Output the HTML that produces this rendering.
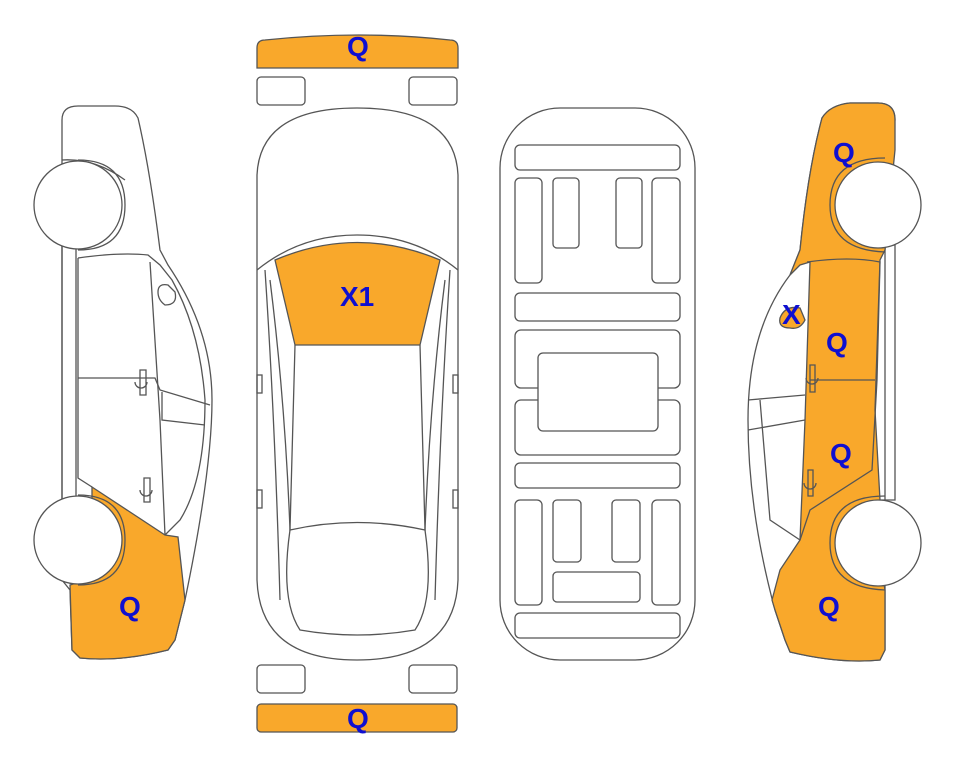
<!DOCTYPE html>
<html><head><meta charset="utf-8"><style>
html,body{margin:0;padding:0;background:#fff;}
svg{display:block}
text{font-family:"Liberation Sans",sans-serif;font-weight:bold;fill:#0f0fd0;font-size:28px;}
</style></head><body>
<svg width="963" height="768" viewBox="0 0 963 768" xmlns="http://www.w3.org/2000/svg">
<g fill="none" stroke="#555" stroke-width="1.3">
<!-- LEFT CAR -->
<path d="M62,120 Q62,106 78,106 L115,106 Q132,106 138,118 Q150,170 160,250 L168,265 Q212,330 212,400 Q212,470 185,600 L175,640 L168,650 Q120,662 80,658 L72,650 L70,590 L62,580 L62,170 Z" fill="#fff"/>
<path d="M92,487 L165,535 L178,537 L185,600 L175,640 L168,650 Q120,662 80,658 L72,650 L70,585 L92,578 Z" fill="#f9a82b" stroke="#555"/>
<path d="M62,160 Q95,158 125,180"/>
<path d="M62,245 L62,500 M76,245 L76,500 M62,245 L76,245 M62,500 L92,500"/>
<path d="M78,258 Q120,252 148,255 L160,265 L172,280 Q200,330 205,400 Q205,480 180,520 L165,535"/>
<path d="M150,262 L160,420 L165,535 M78,258 L78,478 L92,487"/>
<path d="M78,378 L155,378 L160,390 L210,405 M162,392 L162,420 L205,425"/>
<path d="M158,292 Q158,300 165,305 Q178,305 175,292 L168,285 Q158,283 158,292 Z"/>
<path d="M140,370 L140,395 L146,395 L146,370 Z M135,382 A6,6 0 1 0 147,382"/>
<path d="M144,478 L144,502 L150,502 L150,478 Z M140,490 A6,6 0 1 0 152,490"/>
<circle cx="78" cy="205" r="44" fill="#fff"/>
<circle cx="78" cy="540" r="44" fill="#fff"/>
<path d="M78,160 Q125,160 125,205 Q125,250 78,250"/>
<path d="M78,495 Q125,495 125,540 Q125,585 78,585"/>

<!-- RIGHT CAR -->
<path d="M895,120 Q895,103 878,103 L850,103 Q830,105 822,118 Q808,170 800,250 L790,275 Q748,330 748,420 Q748,510 775,610 L785,640 L790,652 Q840,664 880,660 L885,650 L885,180 Z" fill="#fff"/>
<path d="M895,120 Q895,103 878,103 L850,103 Q830,105 822,118 Q808,170 800,250 L790,275 L800,265 L810,262 L805,420 L800,540 L780,570 L772,600 L775,610 L785,640 L790,652 Q840,664 880,660 L885,650 L885,590 L880,560 L880,500 L875,410 L880,260 L885,250 L895,150 Z" fill="#f9a82b"/>
<path d="M780,318 Q785,305 800,308 L805,320 Q800,330 790,328 Q778,328 780,318 Z" fill="#f9a82b"/>
<path d="M807,262 Q850,256 880,262 L877,380 L872,470 L810,510 L800,540"/>
<path d="M810,380 L875,380 M748,430 L805,420 M748,400 L805,395 M760,400 L770,520 L800,540"/>
<path d="M880,245 L895,245 L895,500 L880,500"/>
<path d="M810,365 L810,392 L815,392 L815,365 Z M806,378 A6,6 0 0 0 818,378"/>
<path d="M808,470 L808,496 L813,496 L813,470 Z M804,483 A6,6 0 0 0 816,483"/>
<circle cx="878" cy="205" r="43" fill="#fff"/>
<circle cx="878" cy="543" r="43" fill="#fff"/>
<path d="M885,158 Q830,158 830,205 Q830,250 885,252"/>
<path d="M885,496 Q830,496 830,543 Q830,588 885,590"/>

<!-- TOP VIEW -->
<path d="M257,48 Q257,40 265,40 Q360,30 450,40 Q458,40 458,48 L458,68 L257,68 Z" fill="#f9a82b"/>
<rect x="257" y="77" width="48" height="28" rx="4" fill="#fff"/>
<rect x="409" y="77" width="48" height="28" rx="4" fill="#fff"/>
<rect x="257" y="665" width="48" height="28" rx="4" fill="#fff"/>
<rect x="409" y="665" width="48" height="28" rx="4" fill="#fff"/>
<rect x="257" y="704" width="200" height="28" rx="4" fill="#f9a82b"/>
<path d="M257,175 Q260,108 357,108 Q455,108 458,175 L458,580 Q455,660 357,660 Q260,660 257,580 Z" fill="#fff"/>
<path d="M257,270 Q300,235 357,235 Q415,235 458,270"/>
<path d="M275,260 Q357,225 440,260 L420,345 L295,345 Z" fill="#f9a82b"/>
<path d="M295,345 L290,530 Q357,515 425,530 L420,345"/>
<path d="M290,530 Q280,600 300,630 Q357,640 415,630 Q435,600 425,530"/>
<path d="M265,270 Q275,420 280,600 M450,270 Q440,420 435,600"/>
<path d="M270,280 Q285,400 290,530 M445,280 Q430,400 425,530"/>
<rect x="257" y="375" width="5" height="18"/><rect x="453" y="375" width="5" height="18"/>
<rect x="257" y="490" width="5" height="18"/><rect x="453" y="490" width="5" height="18"/>

<!-- BOTTOM VIEW -->
<rect x="500" y="108" width="195" height="552" rx="60" fill="#fff"/>
<rect x="515" y="145" width="165" height="25" rx="5"/>
<rect x="515" y="178" width="27" height="105" rx="5"/>
<rect x="553" y="178" width="26" height="70" rx="4"/>
<rect x="616" y="178" width="26" height="70" rx="4"/>
<rect x="652" y="178" width="28" height="105" rx="5"/>
<rect x="515" y="293" width="165" height="28" rx="5"/>
<rect x="515" y="330" width="165" height="58" rx="6"/>
<rect x="515" y="400" width="165" height="55" rx="6"/>
<rect x="538" y="353" width="120" height="78" rx="5" fill="#fff"/>
<rect x="515" y="463" width="165" height="25" rx="5"/>
<rect x="515" y="500" width="27" height="105" rx="5"/>
<rect x="553" y="500" width="28" height="62" rx="4"/>
<rect x="612" y="500" width="28" height="62" rx="4"/>
<rect x="652" y="500" width="28" height="105" rx="5"/>
<rect x="553" y="572" width="87" height="30" rx="4"/>
<rect x="515" y="613" width="165" height="25" rx="5"/>
</g>
<text x="347" y="56">Q</text>
<text x="347" y="728">Q</text>
<text x="340" y="306">X1</text>
<text x="119" y="616">Q</text>
<text x="833" y="162">Q</text>
<text x="782" y="324">X</text>
<text x="826" y="352">Q</text>
<text x="830" y="463">Q</text>
<text x="818" y="616">Q</text>
</svg>
</body></html>
